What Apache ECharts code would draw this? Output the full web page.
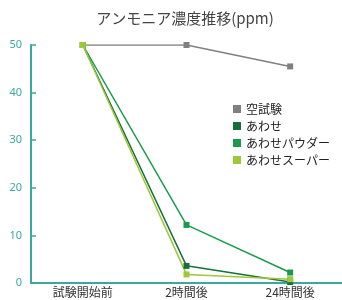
<!DOCTYPE html>
<html>
<head>
<meta charset="utf-8">
<script src="https://cdn.jsdelivr.net/npm/echarts@6/dist/echarts.min.js"></script>
<style>
  html, body { margin: 0; padding: 0; background: #fff; }
  #chart { width: 342px; height: 300px; }
</style>
</head>
<body>
<div id="chart"></div>
<script>
const categories = ['試験開始前', '2時間後', '24時間後'];
const blankValues = [50, 50, 45.5];
const awaseValues = [50, 3.6, 0.2];
const powderValues = [50, 12.2, 2.2];
const superValues = [50, 1.8, 0.8];
const yTicks = [0, 10, 20, 30, 40, 50];

let axisColor = '#3aa8a0';

function makeSeries(name, data, color) {
    return {
        name: name,
        type: 'line',
        data: data,
        symbol: 'rect',
        symbolSize: 6,
        color: color,
        lineStyle: { width: 1.5, color: color },
        itemStyle: { color: color }
    }
}

let chart = echarts.init(document.getElementById('chart'), null, { renderer: 'canvas' });

let option = {
    animation: false,
    title: {
        text: 'アンモニア濃度推移(ppm)',
        left: 180,
        top: 6,
        textAlign: 'center',
        textStyle: {
            fontFamily: 'Noto Sans CJK JP',
            fontSize: 15,
            fontWeight: 'normal',
            color: '#444'
        }
    },
    legend: {
        orient: 'vertical',
        left: 228,
        top: 98,
        itemWidth: 8,
        itemHeight: 8,
        itemGap: 5,
        icon: 'rect',
        textStyle: {
            fontFamily: 'Noto Sans CJK JP',
            fontSize: 12,
            color: '#222'
        }
    },
    grid: {
        left: 31,
        right: 0,
        top: 45,
        bottom: 17,
        containLabel: false
    },
    xAxis: {
        type: 'category',
        data: categories,
        boundaryGap: true,
        axisLine: { lineStyle: { color: axisColor, width: 2 } },
        axisTick: { inside: true, length: 5, lineStyle: { color: axisColor, width: 1.5 } },
        axisLabel: {
            fontFamily: 'Noto Sans CJK JP',
            fontSize: 12,
            color: '#333',
            margin: 3
        }
    },
    yAxis: {
        type: 'value',
        min: yTicks[0],
        max: yTicks[yTicks.length - 1],
        interval: 10,
        axisLine: { show: true, lineStyle: { color: axisColor, width: 2 } },
        axisTick: { show: true, inside: true, length: 5, lineStyle: { color: axisColor, width: 1.5 } },
        splitLine: { show: false },
        axisLabel: {
            fontFamily: 'Noto Sans',
            fontSize: 11,
            color: axisColor,
            margin: 9
        }
    },
    series: [
        makeSeries('空試験', blankValues, '#808080'),
        makeSeries('あわせ', awaseValues, '#17703a'),
        makeSeries('あわせパウダー', powderValues, '#1a9a4c'),
        makeSeries('あわせスーパー', superValues, '#9cc83a')
    ]
};

chart.setOption(option);
</script>
</body>
</html>
